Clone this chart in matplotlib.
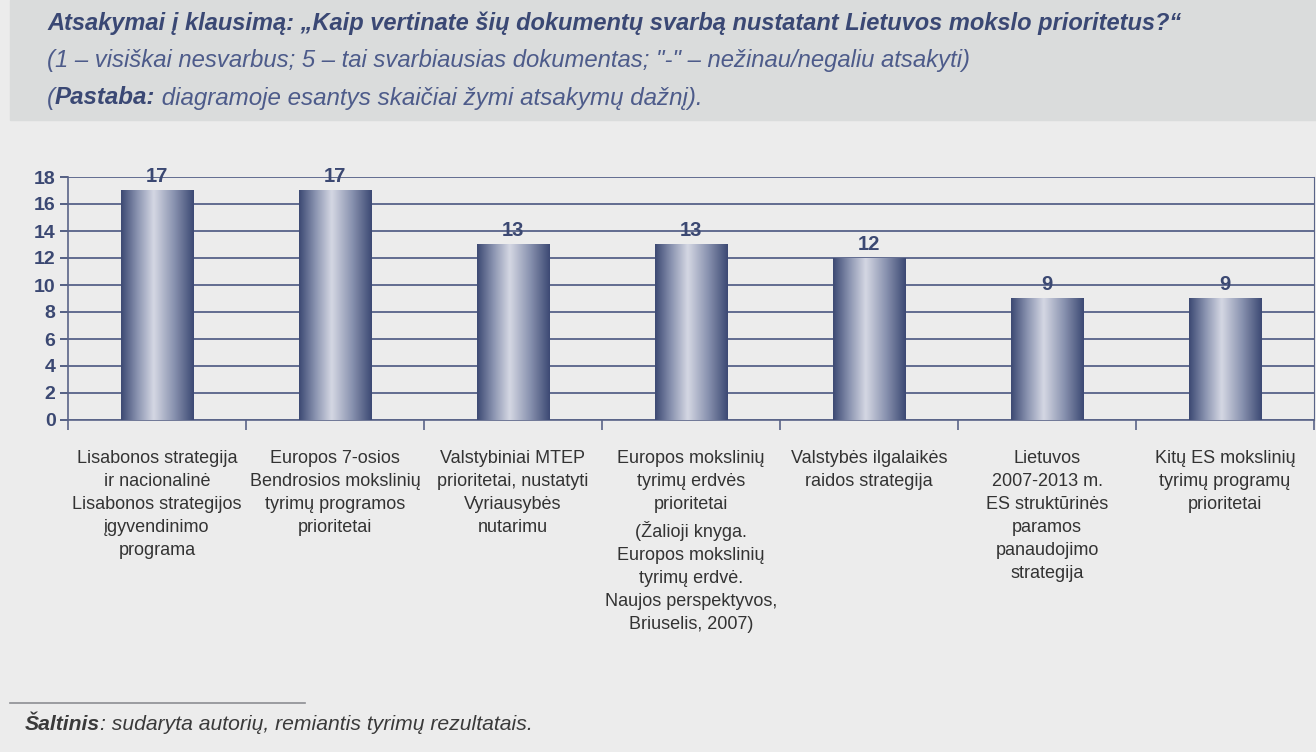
import numpy as np
import matplotlib.pyplot as plt
from matplotlib.patches import Rectangle
from matplotlib.colors import LinearSegmentedColormap

plt.rcParams['font.family'] = ['Liberation Sans', 'DejaVu Sans']

# Data
categories = [
    'Lisabonos strategija\nir nacionalinė\nLisabonos strategijos\nįgyvendinimo\nprograma',
    'Europos 7-osios\nBendrosios mokslinių\ntyrimų programos\nprioritetai',
    'Valstybiniai MTEP\nprioritetai, nustatyti\nVyriausybės\nnutarimu',
    'Europos mokslinių\ntyrimų erdvės\nprioritetai\n(Žalioji knyga.\nEuropos mokslinių\ntyrimų erdvė.\nNaujos perspektyvos,\nBriuselis, 2007)',
    'Valstybės ilgalaikės\nraidos strategija',
    'Lietuvos\n2007-2013 m.\nES struktūrinės\nparamos\npanaudojimo\nstrategija',
    'Kitų ES mokslinių\ntyrimų programų\nprioritetai',
]
values = [17, 17, 13, 13, 12, 9, 9]
yticks = [0, 2, 4, 6, 8, 10, 12, 14, 16, 18]

navy = '#3b4872'
bg = '#ececec'
W, H = 1316, 752

fig = plt.figure(figsize=(W / 100, H / 100), dpi=100, facecolor=bg)
renderer = fig.canvas.get_renderer()


def chain(parts, x, y, size, color):
    # write text pieces one after another on one line
    for txt, kw in parts:
        opts = dict(fontsize=size, color=color, va='center', fontstyle='italic')
        opts.update(kw)
        t = fig.text(x / W, 1 - y / H, txt, **opts)
        x = t.get_window_extent(renderer).x1


# header band
fig.patches.append(Rectangle((10 / W, 1 - 120 / H), 1, 120 / H,
                             transform=fig.transFigure, color='#dadcdc', zorder=0))
chain([('Atsakymai į klausimą: „Kaip vertinate šių dokumentų svarbą nustatant Lietuvos mokslo prioritetus?“',
        dict(fontweight='bold'))], 47, 23, 17.0, '#3a4874')
chain([('(1 – visiškai nesvarbus; 5 – tai svarbiausias dokumentas; "-" – nežinau/negaliu atsakyti)', {})],
      47, 61, 17.2, '#4d5b8a')
chain([('(', dict(color='#4d5b8a')), ('Pastaba:', dict(fontweight='bold', color='#3a4874')),
       (' diagramoje esantys skaičiai žymi atsakymų dažnį).', dict(color='#4d5b8a'))],
      47, 98, 17.4, None)

# axes
ax = fig.add_axes([68 / W, 1 - 420 / H, 1246 / W, 243 / H])
ax.set_facecolor(bg)
x = np.arange(len(values))
bars = ax.bar(x, values, width=0.41, color='none', zorder=3)

grad = np.concatenate([np.linspace(0, 1, 45), np.linspace(1, 0, 55)])[None, :]
cmap = LinearSegmentedColormap.from_list('bar', ['#3d4a74', '#8a93b0', '#d3d6e2'])
for b, v in zip(bars, values):
    x0, w = b.get_x(), b.get_width()
    ax.imshow(grad, cmap=cmap, aspect='auto', extent=(x0, x0 + w, 0, v),
              zorder=3, interpolation='bicubic')
    ax.text(x0 + w / 2, v + 0.3, str(v), ha='center', va='bottom',
            fontsize=14.5, fontweight='bold', color=navy)

ax.set_xlim(-0.5, len(values) - 0.5)
ax.set_ylim(0, 18)
ax.set_yticks(yticks)
ax.set_yticklabels([str(t) for t in yticks], fontsize=14, fontweight='bold', color=navy)
ax.yaxis.grid(True, color='#4a5680', linewidth=1.2, zorder=1)
ax.set_axisbelow(True)
ax.tick_params(axis='y', length=6, color=navy, width=1.2, pad=3)

ax.set_xticks(np.arange(-0.5, len(values), 1.0))
ax.set_xticklabels([])
ax.tick_params(axis='x', length=7, color='#5a6488', width=1.2, direction='out')
for i, lab in enumerate(categories):
    ax.text(i, -2.25, lab, ha='center', va='top', fontsize=13, color='#333333',
            linespacing=1.46)

for s in ['left', 'bottom']:
    ax.spines[s].set_color('#5a6488')
    ax.spines[s].set_linewidth(1.2)
ax.spines['top'].set_visible(False)
ax.spines['right'].set_color('#5a6488')

# footer
fig.add_artist(plt.Line2D([10 / W, 305 / W], [1 - 703 / H, 1 - 703 / H],
                          transform=fig.transFigure, color='#8c8e92', linewidth=1.2))
chain([('Šaltinis', dict(fontweight='bold')),
       (': sudaryta autorių, remiantis tyrimų rezultatais.', {})],
      25, 724, 15.2, '#3a3a3a')

fig.savefig('out.png', dpi=100, facecolor=bg)
